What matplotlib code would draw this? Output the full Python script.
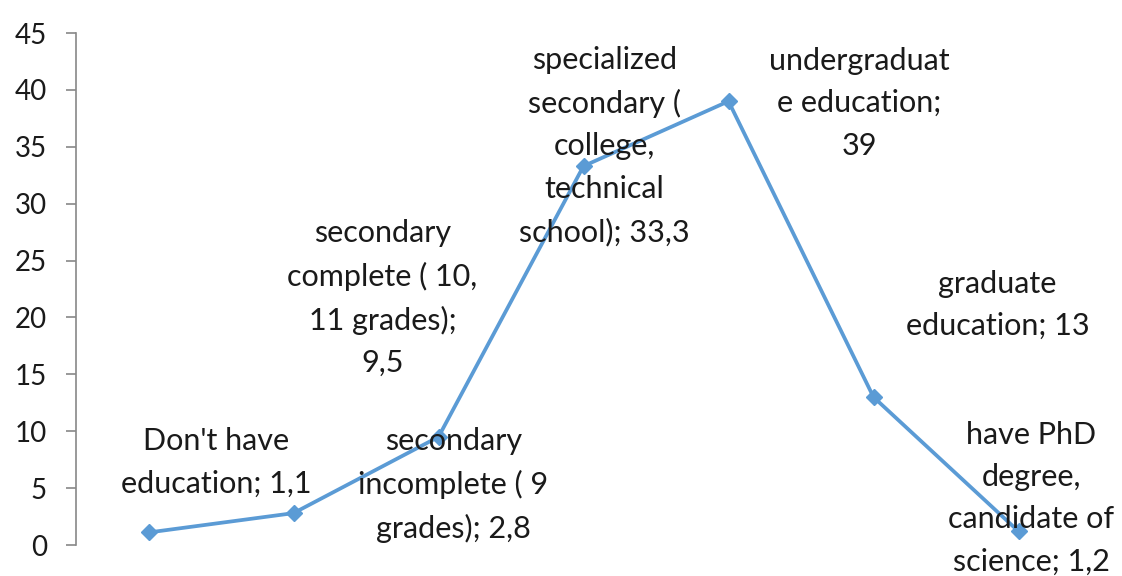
import matplotlib
matplotlib.use("Agg")
import matplotlib.pyplot as plt

categories = ["Don't have education", "secondary incomplete ( 9 grades)",
              "secondary complete ( 10, 11 grades)", "specialized secondary ( college, technical school)",
              "undergraduate education", "graduate education", "have PhD degree, candidate of science"]
values = [1.1, 2.8, 9.5, 33.3, 39, 13, 1.2]
label_texts = ["Don't have\neducation; 1,1",
               "secondary\nincomplete ( 9\ngrades); 2,8",
               "secondary\ncomplete ( 10,\n11 grades);\n9,5",
               "specialized\nsecondary (\ncollege,\ntechnical\nschool); 33,3",
               "undergraduat\ne education;\n39",
               "graduate\neducation; 13",
               "have PhD\ndegree,\ncandidate of\nscience; 1,2"]
label_offsets = [(68, 70), (160, 28), (-56, 139), (21, 20), (131, -2), (124, 92), (13, 33)]
yticks = [0, 5, 10, 15, 20, 25, 30, 35, 40, 45]

plt.rcParams['font.family'] = ['Lato', 'DejaVu Sans']
fig = plt.figure(figsize=(11.22, 5.76), dpi=100)
ax = fig.add_axes([76/1122, 1-545/576, (1091-76)/1122, (545-33)/576])
x = list(range(len(values)))
color = '#5B9BD5'
ax.plot(x, values, color=color, lw=2.7, marker='D', ms=8, mfc=color, mec=color, clip_on=False)
for xi, v, t, off in zip(x, values, label_texts, label_offsets):
    ax.annotate(t, (xi, v), xytext=off, textcoords='offset pixels', ha='center', va='center',
                fontsize=22, color='#1a1a1a', linespacing=1.62)
ax.set_xlim(-0.5, len(values)-0.5)
ax.set_ylim(0, 45)
ax.set_yticks(yticks)
ax.set_yticklabels([str(t) for t in yticks], fontsize=20, color='#1a1a1a')
ax.set_xticks([])
for s in ['top', 'right', 'bottom']:
    ax.spines[s].set_visible(False)
ax.spines['left'].set_color('#888888')
ax.spines['left'].set_linewidth(1.2)
ax.tick_params(axis='y', length=7, color='#888888', width=1.2, pad=14)
fig.savefig('out.png', dpi=100)
